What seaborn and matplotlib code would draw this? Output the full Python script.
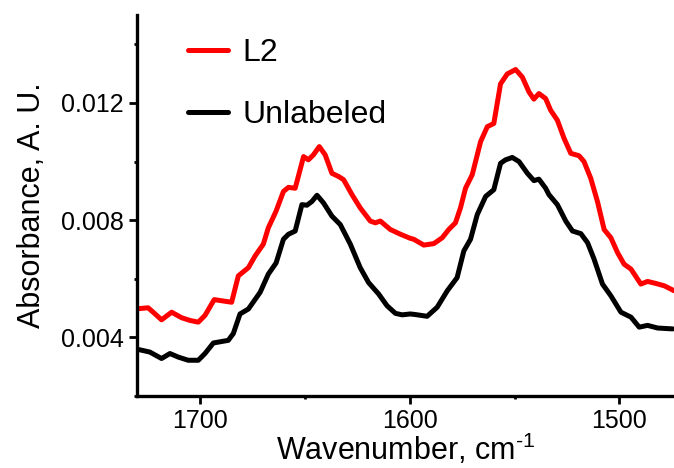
import numpy as np
import pandas as pd
import matplotlib
matplotlib.use("Agg")
import matplotlib.pyplot as plt
from matplotlib.ticker import MultipleLocator
import seaborn as sns

# FTIR amide I / amide II region, absorbance spectra
wn_l2 = [1729.5, 1724.7, 1722.3, 1718.3, 1713.5, 1708.7, 1704.8, 1700.8, 1697.6, 1693.2,
         1689.6, 1684.9, 1681.7, 1676.9, 1673.7, 1669.8, 1667.4, 1663.7, 1660.2, 1657.8,
         1654.6, 1650.6, 1648.3, 1645.9, 1643.1, 1640.3, 1637.1, 1633.9, 1631.5, 1627.5,
         1623.6, 1618.8, 1616.4, 1614.0, 1609.2, 1604.4, 1599.7, 1598.1, 1593.3, 1588.5,
         1584.5, 1581.4, 1578.2, 1575.8, 1573.4, 1570.2, 1566.2, 1563.0, 1559.9, 1556.7,
         1553.5, 1549.5, 1546.3, 1543.1, 1540.8, 1538.4, 1535.2, 1532.8, 1529.6, 1526.4,
         1523.2, 1519.3, 1516.9, 1513.7, 1510.5, 1507.3, 1504.1, 1500.9, 1497.8, 1494.5,
         1489.8, 1486.6, 1482.6, 1478.6, 1473.9]
abs_l2 = [0.00498, 0.00501, 0.00486, 0.00460, 0.00486, 0.00467, 0.00458, 0.00452, 0.00475, 0.00529,
          0.00525, 0.00520, 0.00610, 0.00638, 0.00678, 0.00718, 0.00774, 0.00831, 0.00898, 0.00912,
          0.00909, 0.01017, 0.01006, 0.01023, 0.01051, 0.01023, 0.00960, 0.00949, 0.00938, 0.00887,
          0.00842, 0.00797, 0.00791, 0.00797, 0.00768, 0.00752, 0.00738, 0.00735, 0.00715, 0.00720,
          0.00740, 0.00768, 0.00791, 0.00842, 0.00909, 0.00955, 0.01068, 0.01119, 0.01130, 0.01265,
          0.01299, 0.01314, 0.01288, 0.01237, 0.01213, 0.01232, 0.01215, 0.01175, 0.01141, 0.01079,
          0.01028, 0.01020, 0.01000, 0.00943, 0.00864, 0.00768, 0.00740, 0.00689, 0.00650, 0.00633,
          0.00582, 0.00591, 0.00584, 0.00576, 0.00559]

wn_unl = [1729.5, 1723.9, 1718.3, 1714.3, 1710.4, 1705.6, 1700.8, 1697.6, 1693.6, 1686.5,
          1684.1, 1680.9, 1676.9, 1671.3, 1667.4, 1663.7, 1660.2, 1657.8, 1654.6, 1651.4,
          1649.0, 1646.6, 1644.2, 1641.1, 1637.1, 1633.1, 1628.3, 1623.6, 1619.6, 1614.8,
          1610.8, 1606.8, 1603.6, 1599.7, 1597.3, 1591.7, 1586.9, 1582.1, 1577.4, 1574.2,
          1571.0, 1567.8, 1563.8, 1559.9, 1556.7, 1554.3, 1551.1, 1547.9, 1543.9, 1540.8,
          1538.4, 1535.2, 1533.6, 1529.6, 1525.6, 1522.4, 1518.4, 1515.2, 1512.1, 1508.1,
          1504.1, 1499.3, 1494.5, 1490.6, 1486.6, 1481.8, 1474.6]
abs_unl = [0.00359, 0.00350, 0.00328, 0.00345, 0.00333, 0.00322, 0.00322, 0.00345, 0.00381, 0.00390,
           0.00413, 0.00480, 0.00497, 0.00554, 0.00616, 0.00654, 0.00735, 0.00752, 0.00763, 0.00853,
           0.00851, 0.00864, 0.00885, 0.00859, 0.00814, 0.00785, 0.00718, 0.00638, 0.00587, 0.00548,
           0.00508, 0.00482, 0.00477, 0.00480, 0.00478, 0.00472, 0.00503, 0.00559, 0.00604, 0.00695,
           0.00735, 0.00819, 0.00881, 0.00904, 0.00994, 0.01006, 0.01014, 0.01000, 0.00960, 0.00935,
           0.00940, 0.00909, 0.00887, 0.00853, 0.00797, 0.00763, 0.00754, 0.00723, 0.00667, 0.00582,
           0.00542, 0.00486, 0.00469, 0.00435, 0.00441, 0.00432, 0.00429]

series_names = ["L2", "Unlabeled"]
series_colors = {"L2": "#ff0000", "Unlabeled": "#000000"}

df = pd.concat([
    pd.DataFrame({"wn": wn_l2, "A": abs_l2, "sample": "L2"}),
    pd.DataFrame({"wn": wn_unl, "A": abs_unl, "sample": "Unlabeled"}),
], ignore_index=True)

sns.set_theme(style="ticks")
plt.rcParams["font.family"] = ["Liberation Sans", "DejaVu Sans"]
plt.rcParams["mathtext.fontset"] = "custom"
plt.rcParams["mathtext.rm"] = "Liberation Sans"
for key in ("text.color", "axes.labelcolor", "xtick.color", "ytick.color", "axes.edgecolor"):
    plt.rcParams[key] = "black"

fig = plt.figure(figsize=(6.74, 4.68), dpi=100)
ax = fig.add_axes([0.2033, 0.1538, 0.7967, 0.8141])

sns.lineplot(data=df, x="wn", y="A", hue="sample", hue_order=series_names,
             palette=series_colors, estimator=None, linewidth=3.6, ax=ax)

ax.set_xlim(1730, 1474)
ax.set_ylim(0.002, 0.015)
ax.xaxis.set_major_locator(MultipleLocator(100))
ax.xaxis.set_minor_locator(MultipleLocator(50))
ax.yaxis.set_minor_locator(MultipleLocator(0.002))
ax.set_yticks([0.004, 0.008, 0.012])
ax.set_yticklabels(["0.004", "0.008", "0.012"])

for s in ("top", "right"):
    ax.spines[s].set_visible(False)
for s in ("left", "bottom"):
    ax.spines[s].set_linewidth(2.4)

ax.tick_params(which="major", direction="out", length=5.5, width=2, labelsize=18, pad=4)
ax.tick_params(which="minor", direction="out", length=2.5, width=2)

ax.set_xlabel(r"Wavenumber, cm$^{\text{-1}}$", fontsize=22, labelpad=-1)
ax.set_ylabel("Absorbance, A. U.", fontsize=22, labelpad=10)

ax.legend(title=None, frameon=False, fontsize=23, loc="upper left",
          bbox_to_anchor=(0.095, 0.94), borderaxespad=0, borderpad=0,
          handlelength=1.25, handletextpad=0.45, labelspacing=1.0)

fig.savefig("out.png", dpi=100)
